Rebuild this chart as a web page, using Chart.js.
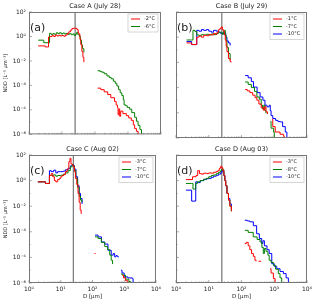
<!DOCTYPE html>
<html>
<head>
<meta charset="utf-8">
<script src="https://cdn.jsdelivr.net/npm/chart.js@4"></script>
<style>
  body { margin: 0; background: #fff; width: 320px; height: 303px; position: relative; overflow: hidden; }
  canvas { position: absolute; }
</style>
</head>
<body>
<canvas id="cA" style="left:0;top:0"></canvas>
<canvas id="cB" style="left:168px;top:0"></canvas>
<canvas id="cC" style="left:0;top:143px"></canvas>
<canvas id="cD" style="left:168px;top:143px"></canvas>
<script>
// size distributions, [D (μm), NDD (L^-1 μm^-1)], null = gap between probes
const aRed = [[1.9,0.17],[2.5,0.17],[3.1,0.14],[3.7,0.14],[3.9,0.9],[4.4,1.0],[5.0,1.25],[5.6,1.0],[6.3,1.3],[7.1,1.1],[8.0,1.25],[9.0,1.1],[10,1.2],[11.3,1.05],[12.7,1.3],[14.3,1.7],[16,2.4],[18,3.3],[20,4.5],[22.5,4.8],[25.5,4.6],[28.5,3.6],[31,1.9],[33,1.5],[35,0.6],[37,0.22],[40,0.06],[43,0.02],[46,0.008],null,
  [120,6e-5],[150,4.5e-5],[190,3e-5],[243,1.8e-5],[300,1e-5],[389,5e-6],[437,2.5e-6],[480,1.5e-6],[500,4e-7],[530,1.2e-6],[560,3e-7],[600,8e-7],[700,5e-7],[887,3.4e-7],[1050,2.2e-7],[1260,1.4e-7],[1450,6e-8],[1590,3e-8],[1800,1.8e-8],[2020,1e-8]];
const aGreen = [[1.9,0.5],[2.7,0.5],[2.8,0.31],[3.9,0.31],[4.2,1.8],[4.7,1.5],[5.3,1.7],[6,1.5],[6.7,2.0],[7.5,1.7],[8.4,2.0],[9.5,1.6],[10.6,1.9],[12,1.6],[13.4,1.8],[15,1.5],[17,1.7],[19,1.4],[21,1.6],[23.5,1.2],[26,1.6],[28,2.2],[30,1.5],[32,1.3],[34,1.0],[36,0.5],[39,0.2],[42,0.1],[46,0.05],null,
  [120,1.6e-3],[140,1.4e-3],[160,1.2e-3],[190,9e-4],[230,6e-4],[270,4.5e-4],[310,3.5e-4],[360,2.2e-4],[410,1.5e-4],[460,9e-5],[520,4.5e-5],[580,2.5e-5],[650,1.5e-5],[720,7e-6],[760,2.6e-6],[850,2.2e-6],[950,1.6e-6],[1120,1.15e-6],[1300,6e-7],[1590,2.5e-7],[1800,1.2e-7],[2020,5.5e-8],[2300,2.5e-8],[2560,1e-8]];

const bRed = [[2.1,0.35],[3.0,0.26],[4.3,1.0],[5,1.2],[6,1.0],[7,1.4],[8.5,1.3],[10,1.6],[12,1.5],[14,2.0],[16,1.7],[18,2.5],[20,4],[22,5],[24,6.5],[26,4],[28,3],[30,1.5],[32,0.6],[34,0.2],[36,0.07],[40,0.02],[45,0.012],[48,0.01],null,
  [129,7e-5],[150,5.5e-5],[180,4e-5],[220,2.5e-5],[260,1.6e-5],[295,1e-5],[340,5e-6],[400,2.5e-6],[468,1.6e-6],[500,3e-6],[560,1.2e-6],[620,8e-7],null,
  [850,3e-7],[900,8e-8],[1070,3e-8],[1500,2e-8],[1900,1.5e-8],[2000,1e-8]];
const bGreen = [[2.1,0.6],[3.0,0.6],[3.3,3.5],[3.8,2.8],[4.3,1.5],[5,1.4],[6,1.6],[7,1.5],[8.5,1.7],[10,1.5],[12,1.8],[14,1.6],[17,2],[20,2.5],[23,2.2],[26,1.7],[28,2.8],[30,3.5],[32,1.5],[34,0.5],[36,0.15],[40,0.05],[45,0.015],null,
  [129,2.8e-4],[160,1.8e-4],[200,1e-4],[250,5e-5],[295,1.8e-5],[350,1.2e-5],[400,4e-6],[440,2e-6],[480,4e-6],[520,1.5e-6],[560,9e-7],null,
  [755,2e-7],[800,6e-8],[955,3e-8],[1000,1e-8]];
const bBlue = [[2.1,0.45],[3.0,0.26],[4.0,0.26],[4.3,3.5],[5,3],[6,4],[7,3.5],[8.5,4],[10,3],[12,2.5],[14,3.5],[17,3],[20,2.5],[23,2],[26,2.2],[28,1.8],[30,2.2],[33,1.0],[36,0.5],[40,0.35],[45,0.22],null,
  [129,9e-4],[160,6e-4],[200,3e-4],[232,1.1e-4],[300,4e-5],[370,1.8e-5],[450,1e-5],[520,4e-6],[600,3e-6],[700,4e-6],[755,1.5e-6],[800,6e-7],[900,3.5e-7],[1100,2.5e-7],[1300,2e-7],[1520,1.9e-7],[1800,8e-8],[2170,3e-8],[2430,1e-8]];

const cRed = [[1.9,0.8],[2.6,0.8],[3.3,0.6],[4.0,0.6],[4.4,2.5],[5,3.6],[5.6,2],[6.3,1.0],[7,0.8],[8,1.2],[9,1.5],[10,2],[11,2.5],[12.5,3],[14,5],[16,8],[18,30],[19.5,55],[21,20],[23,17],[25,12],[27,5],[29,1.5],[32,0.5],[35,0.1],[38,0.02],[41,0.005],[44,0.0025],null,
  [115,2e-6],[125,2e-6],null,[880,4e-8],[950,2.5e-8],[1100,1.5e-8],[1300,1e-8]];
const cGreen = [[1.9,0.8],[2.6,0.8],[3.3,0.6],[4.0,0.6],[4.4,2.5],[5,2.5],[6,2.8],[7,2.2],[8,2.5],[10,2.6],[12,3.2],[14,4],[17,6],[20,12],[23,17],[25,14],[27,6],[30,1.5],[34,0.3],[38,0.06],[42,0.03],[46,0.02],null,
  [120,4e-5],[150,3e-5],[190,1.5e-5],[243,7e-6],[300,4e-6],[350,1.5e-6],[389,6e-7],[430,3e-7],null,
  [790,5e-8],[900,4e-8],[1100,2e-8],[1400,1.3e-8],[1600,1e-8]];
const cBlue = [[1.9,0.8],[2.6,0.8],[3.3,0.6],[4.0,0.6],[4.4,6],[5,5],[6,6.5],[7,4],[8,5],[10,5],[12,5.5],[14,7],[17,9],[20,14],[23,18],[25,15],[27,8],[30,2],[34,0.4],[38,0.1],[42,0.04],[47,0.015],null,
  [120,5.5e-5],[150,4e-5],[192,1.6e-5],[243,1.1e-5],[307,3.6e-6],[389,1.5e-6],[450,2e-6],[500,1.1e-6],[550,1.4e-6],[600,1.2e-6],[650,1e-6],null,
  [787,1e-7],[850,6e-8],[1000,3e-8],[1300,2.5e-8],[1800,2.2e-8],[1900,1e-8]];

const dRed = [[2.0,1.2],[3.2,2.0],[4.1,2.5],[4.6,6],[5.2,3.5],[6,3.2],[7,3.8],[8.5,3.5],[10,4.0],[12,3.8],[14,4.5],[17,5],[19,6],[21,9],[23,13],[25,10],[27,6],[29,2.5],[31,1.0],[33,0.4],[36,0.1],[40,0.03],[44,0.01],[49,0.004],null,
  [126,1.2e-5],[140,1.5e-5],[160,8e-6],[180,4e-6],[203,2e-6],[230,1.2e-6],[257,6e-7],[280,5e-7],null,[330,5e-7],[400,5e-7],null,
  [744,1.3e-7],[800,6e-8],[940,2.2e-8],[1060,1e-8]];
const dGreen = [[2.0,0.6],[3.0,0.6],[3.3,0.22],[4.0,0.6],[4.5,0.8],[5.5,1.0],[7,1.3],[8.5,1.5],[10,2.0],[12,2.5],[14,2.8],[17,3.5],[20,4.5],[23,6],[25,8],[27,7],[29,2.5],[31,1.0],[33,0.4],[36,0.1],[40,0.03],[44,0.01],[49,0.004],null,
  [126,1.3e-4],[160,9e-5],[228,4e-5],[300,2.5e-5],[368,1.6e-5],[420,6e-6],[463,2e-6],[500,5e-6],[560,3e-6],[640,1.5e-6],[700,6e-7],[800,4e-7],[940,2.4e-7],[1100,1.2e-7],[1330,5.4e-8],[1500,2.5e-8],[1690,1e-8]];
const dBlue = [[2.0,0.18],[3.0,0.025],[4.0,0.8],[4.5,0.7],[5.5,1.0],[7,1.2],[8.5,1.4],[10,1.5],[12,1.8],[14,2.2],[17,2.6],[20,3.2],[23,4],[25,6],[27,5],[29,2.5],[31,1.0],[33,0.4],[36,0.1],[40,0.04],[44,0.015],[49,0.006],null,
  [126,8e-4],[150,7e-4],[180,6e-4],[230,3e-4],[290,7e-5],[350,3e-5],[414,1.2e-5],[450,2e-5],[500,8e-6],[600,4e-6],[700,2e-6],[840,3.2e-7],[1000,2e-7],[1190,1.3e-7],[1500,8e-8],[1900,5.4e-8],[2300,2.5e-8],[2700,1e-8]];

const xMajor = [1, 10, 100, 1000, 10000];
const yMajor = [1e-8, 1e-6, 1e-4, 1e-2, 1, 100];
const cutSize = 25; // μm, vertical line

const panels = [
  { id: 'cA', title: 'Case A (July 28)', tag: '(a)', labels: ['-2°C', '-6°C'], series: [aRed, aGreen], left: true, bottom: false },
  { id: 'cB', title: 'Case B (July 29)', tag: '(b)', labels: ['-1°C', '-7°C', '-10°C'], series: [bRed, bGreen, bBlue], left: false, bottom: false },
  { id: 'cC', title: 'Case C (Aug 02)', tag: '(c)', labels: ['-3°C', '-7°C', '-10°C'], series: [cRed, cGreen, cBlue], left: true, bottom: true },
  { id: 'cD', title: 'Case D (Aug 03)', tag: '(d)', labels: ['-3°C', '-8°C', '-10°C'], series: [dRed, dGreen, dBlue], left: false, bottom: true },
];
const colors = ['#ff0000', '#008000', '#0000ff'];

Chart.defaults.font.family = '"DejaVu Sans", sans-serif';
Chart.defaults.color = '#222';

const supMap = { '-': '⁻', '0': '⁰', '1': '¹', '2': '²', '3': '³', '4': '⁴', '5': '⁵', '6': '⁶', '7': '⁷', '8': '⁸', '9': '⁹' };
function pow10(v) {
  const e = String(Math.round(Math.log10(v)));
  return '10' + e.split('').map(c => supMap[c]).join('');
}
function isMajor(list, v) {
  return list.some(m => Math.abs(m - v) / m < 1e-6);
}
function toPts(arr) {
  return arr.map(p => p ? { x: p[0], y: p[1] } : { x: null, y: null });
}

const panelDecor = {
  id: 'panelDecor',
  beforeDatasetsDraw(chart, args, opts) {
    const { ctx, chartArea: a, scales: { x } } = chart;
    const vx = x.getPixelForValue(cutSize);
    ctx.save();
    ctx.strokeStyle = '#7f7f7f';
    ctx.lineWidth = 1.3;
    ctx.beginPath();
    ctx.moveTo(vx, a.top);
    ctx.lineTo(vx, a.bottom);
    ctx.stroke();
    // inward ticks
    ctx.strokeStyle = '#777';
    ctx.lineWidth = 0.6;
    ctx.beginPath();
    x.ticks.forEach(t => {
      const px = x.getPixelForValue(t.value);
      const len = isMajor(xMajor, t.value) ? 3 : 1.6;
      ctx.moveTo(px, a.bottom);
      ctx.lineTo(px, a.bottom - len);
    });
    const y = chart.scales.y;
    y.ticks.forEach(t => {
      const py = y.getPixelForValue(t.value);
      ctx.moveTo(a.left, py);
      ctx.lineTo(a.left + (isMajor(yMajor, t.value) ? 3 : 1.6), py);
    });
    ctx.stroke();
    ctx.restore();
  },
  afterDraw(chart, args, opts) {
    const { ctx, chartArea: a } = chart;
    ctx.save();
    ctx.strokeStyle = '#777';
    ctx.lineWidth = 1;
    ctx.strokeRect(a.left + 0.5, a.top + 0.5, a.right - a.left - 1, a.bottom - a.top - 1);
    ctx.fillStyle = '#222';
    ctx.textAlign = 'center';
    ctx.textBaseline = 'middle';
    ctx.font = '6.5px "DejaVu Sans"';
    ctx.fillText(opts.title, (a.left + a.right) / 2, a.top - 5.5);
    ctx.textAlign = 'left';
    ctx.font = '11px "DejaVu Sans"';
    ctx.fillText(opts.tag, a.left + 1, a.top + 16);
    // legend
    const labels = opts.labels;
    const w = labels.length > 2 ? 34 : 30, h = labels.length * 7.5 + 3;
    const bx = a.right - w - 3, by = a.top + 2;
    ctx.fillStyle = 'rgba(255,255,255,0.85)';
    ctx.strokeStyle = '#ccc';
    ctx.lineWidth = 0.8;
    ctx.fillRect(bx, by, w, h);
    ctx.strokeRect(bx, by, w, h);
    ctx.font = '5px "DejaVu Sans"';
    labels.forEach((t, i) => {
      const ly = by + 5 + i * 7.5;
      ctx.strokeStyle = colors[i];
      ctx.lineWidth = 1;
      ctx.beginPath();
      ctx.moveTo(bx + 3, ly);
      ctx.lineTo(bx + 12, ly);
      ctx.stroke();
      ctx.fillStyle = '#222';
      ctx.fillText(t, bx + 16, ly);
    });
    ctx.restore();
  }
};

panels.forEach(p => {
  const cv = document.getElementById(p.id);
  const W = p.left ? 164 : 152;
  const H = p.bottom ? 160 : 141;
  cv.width = W; cv.height = H;
  cv.style.width = W + 'px'; cv.style.height = H + 'px';
  new Chart(cv, {
    type: 'line',
    data: {
      datasets: p.series.map((s, i) => ({
        label: p.labels[i],
        data: toPts(s),
        borderColor: colors[i],
        borderWidth: 1,
        pointRadius: 0,
        stepped: true,
        spanGaps: false,
        fill: false,
      })),
    },
    options: {
      responsive: false,
      animation: false,
      events: [],
      layout: { padding: { top: 12, right: p.left ? 3 : 13, left: 0, bottom: 0 } },
      plugins: {
        legend: { display: false },
        tooltip: { enabled: false },
        panelDecor: { title: p.title, tag: p.tag, labels: p.labels },
      },
      scales: {
        x: {
          type: 'logarithmic',
          min: 1, max: 10000,
          afterFit: s => { s.height = p.bottom ? 20 : 3; },
          afterBuildTicks: s => {
            const t = [];
            for (let e = 0; e < 4; e++) for (let m = 1; m < 10; m++) t.push({ value: m * Math.pow(10, e) });
            t.push({ value: 10000 });
            s.ticks = t;
          },
          grid: { display: false, drawTicks: false, tickLength: 0 },
          border: { display: false },
          ticks: {
            display: p.bottom,
            autoSkip: false, maxRotation: 0, padding: 3,
            font: { size: 6 },
            callback: v => (p.bottom && isMajor(xMajor, v)) ? pow10(v) : '',
          },
          title: { display: p.bottom, text: 'D [μm]', font: { size: 5.5 }, padding: { top: 0, bottom: 3.5 } },
        },
        y: {
          type: 'logarithmic',
          min: 1e-8, max: 100,
          afterFit: s => { s.width = p.left ? 29 : 8; },
          afterBuildTicks: s => {
            const t = [];
            for (let e = -8; e <= 2; e++) t.push({ value: Math.pow(10, e) });
            s.ticks = t;
          },
          grid: { display: false, drawTicks: false, tickLength: 0 },
          border: { display: false },
          ticks: {
            display: p.left,
            autoSkip: false, padding: 3,
            font: { size: 6 },
            callback: v => (p.left && isMajor(yMajor, v)) ? pow10(v) : '',
          },
          title: { display: p.left, text: 'NDD [L⁻¹ μm⁻¹]', font: { size: 5 }, padding: { top: 3, bottom: 0 } },
        },
      },
    },
    plugins: [panelDecor],
  });
});
</script>
</body>
</html>
